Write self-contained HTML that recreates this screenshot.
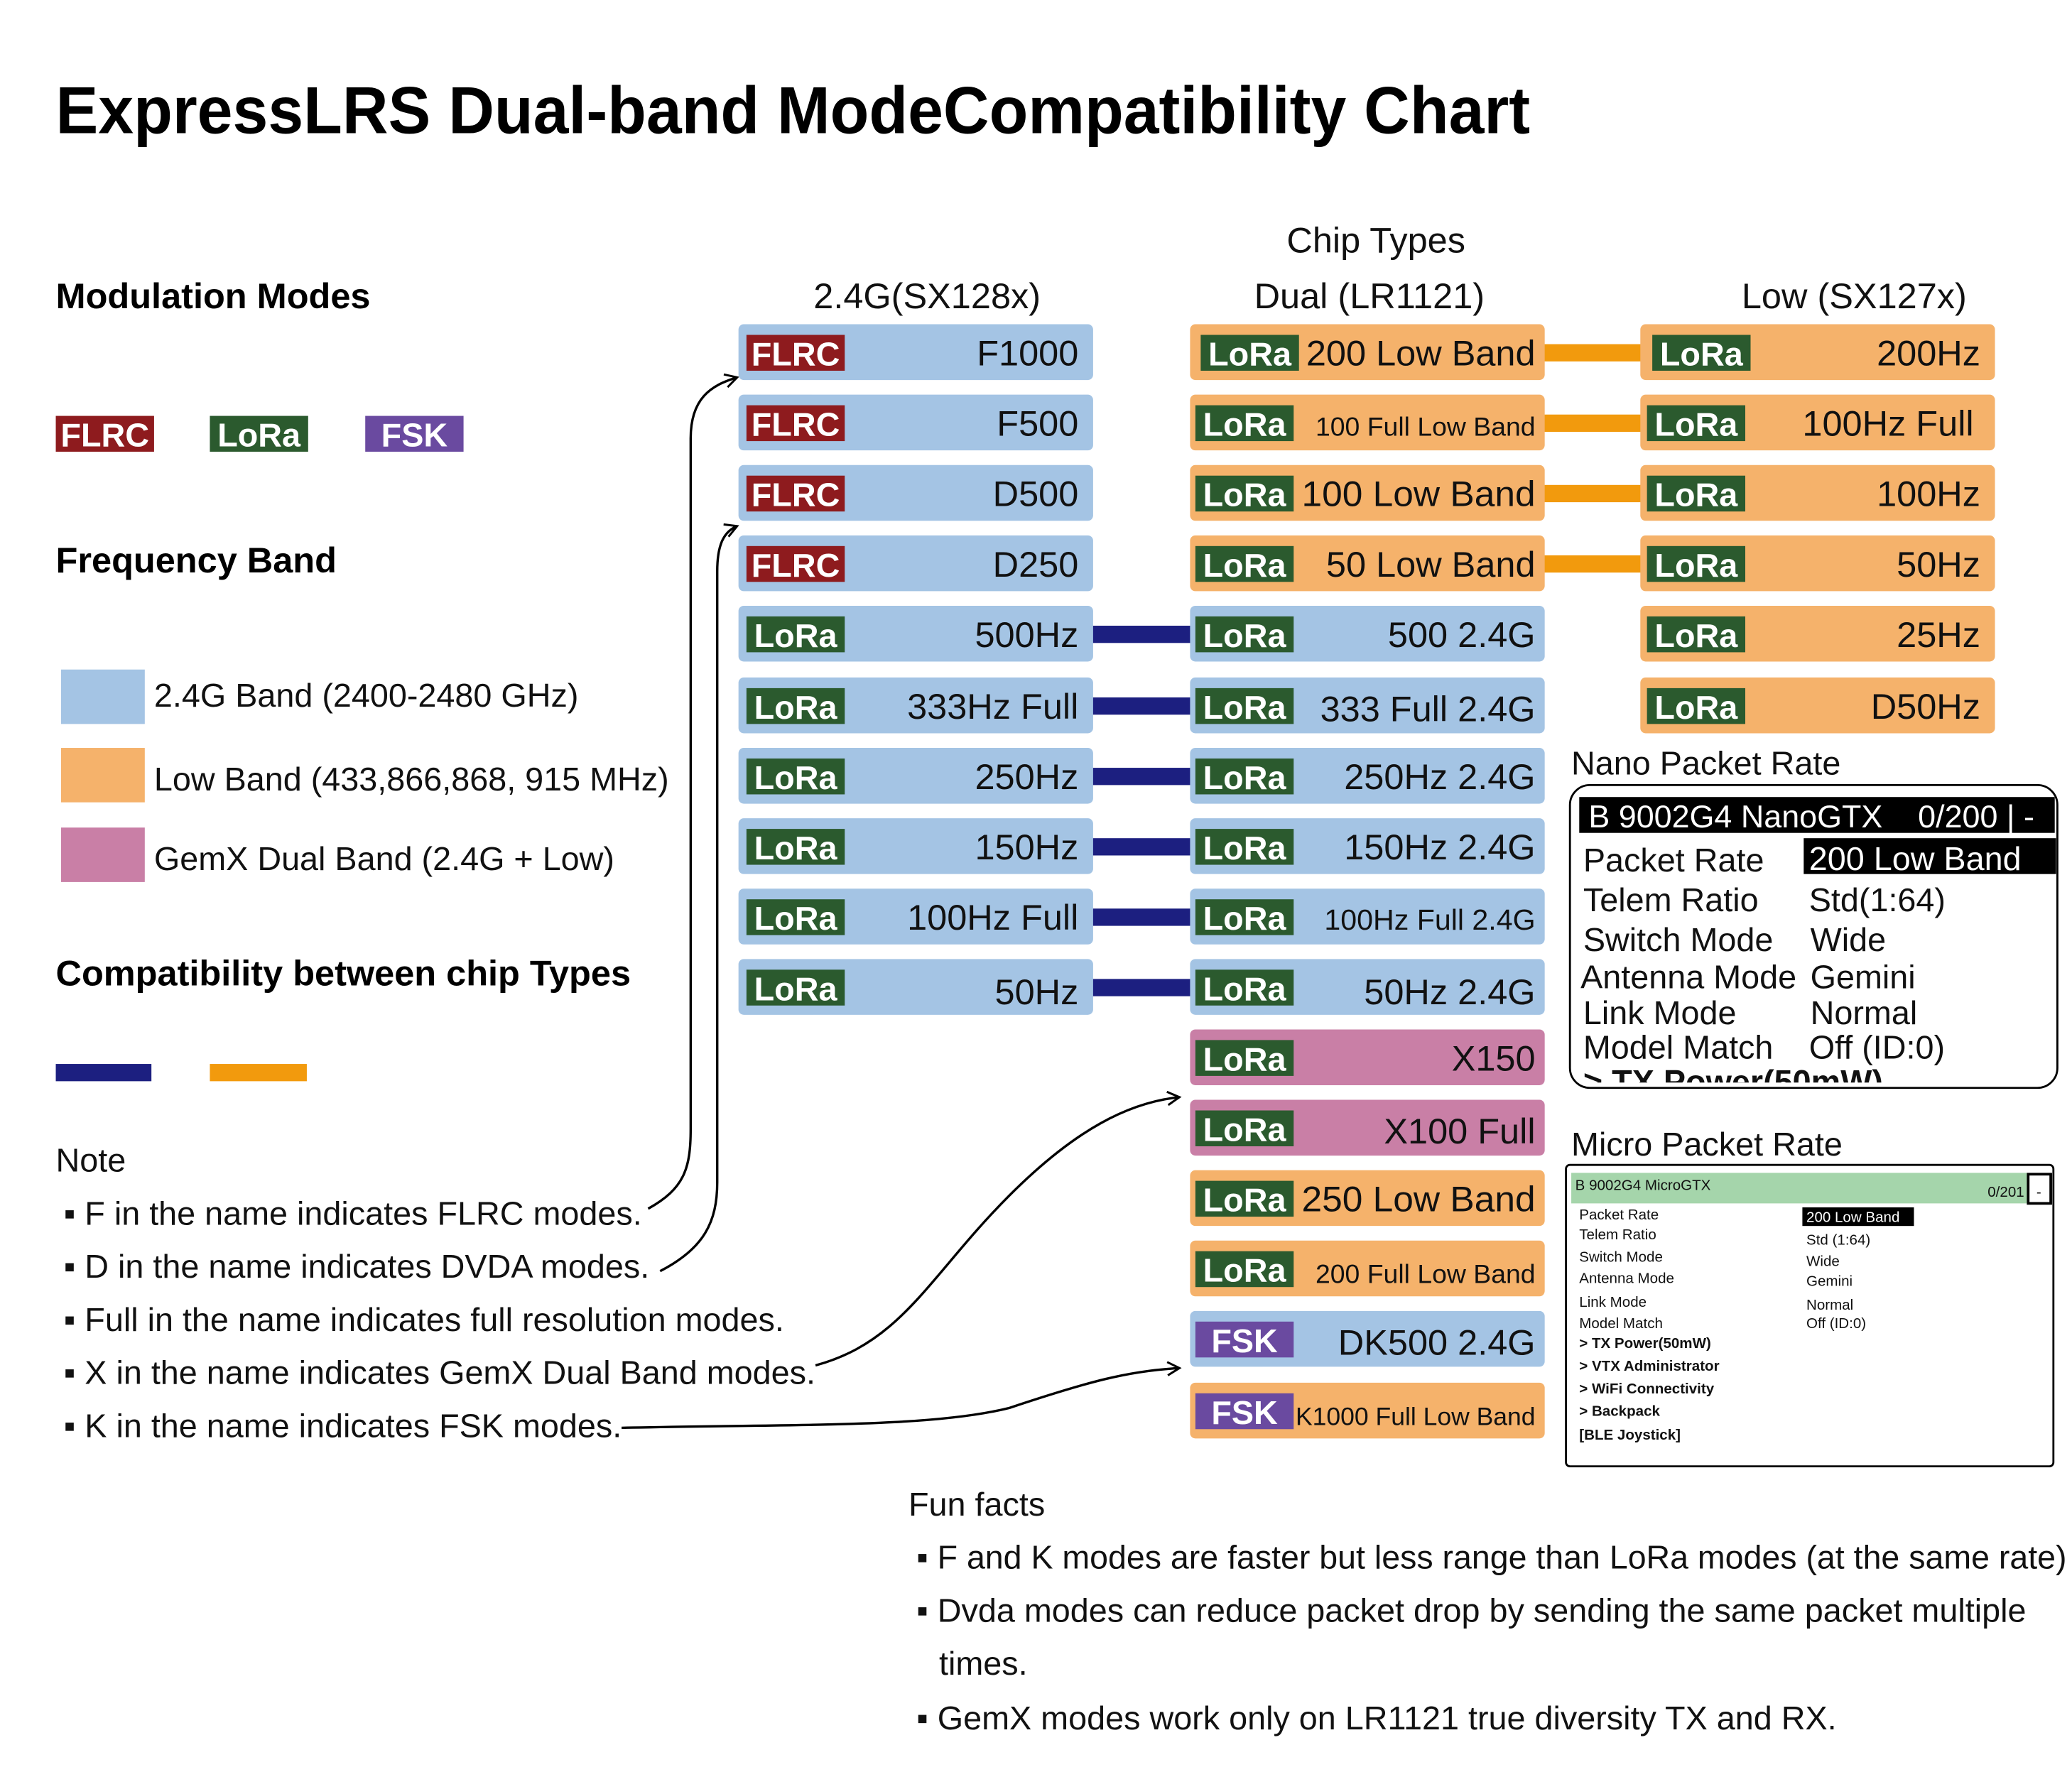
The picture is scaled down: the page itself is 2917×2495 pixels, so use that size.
<!DOCTYPE html>
<html><head><meta charset="utf-8"><style>
html,body{margin:0;padding:0;background:#fff}
svg{display:block}
text{font-family:"Liberation Sans",sans-serif}
.b{font-weight:bold}
.bt{fill:#fff;font-weight:bold;font-size:25px}
.lb{font-size:27px;text-anchor:end;fill:#111}
.sm20{font-size:20px}
.sm22{font-size:22px}
.sm19{font-size:19px}
.t{font-size:25px;fill:#111}
.m{font-size:11px;fill:#111}
</style></head><body>
<svg width="2917" height="2495" viewBox="0 0 1560 1334" xmlns="http://www.w3.org/2000/svg">
<rect width="1560" height="1334" fill="#fff"/>
<defs>
<g id="lora"><rect x="0" y="0" width="74" height="27" fill="#2b5a2e"/><text x="37" y="23" text-anchor="middle" class="bt">LoRa</text></g>
<g id="flrc"><rect x="0" y="0" width="74" height="27" fill="#8e1b1e"/><text x="37" y="23" text-anchor="middle" class="bt">FLRC</text></g>
<g id="fsk"><rect x="0" y="0" width="74" height="27" fill="#6a4aa0"/><text x="37" y="23" text-anchor="middle" class="bt">FSK</text></g>
<marker id="ar" markerWidth="12" markerHeight="12" refX="10" refY="6" orient="auto" markerUnits="userSpaceOnUse"><path d="M1,1 L10,6 L1,11" fill="none" stroke="#000" stroke-width="1.6"/></marker>
</defs>

<text x="42" y="100" class="b" font-size="50" textLength="1110" lengthAdjust="spacingAndGlyphs">ExpressLRS Dual-band ModeCompatibility Chart</text>

<text x="42" y="232" class="b" font-size="27">Modulation Modes</text>
<use href="#flrc" x="42" y="313"/><use href="#lora" x="158" y="313"/><use href="#fsk" x="275" y="313"/>
<text x="42" y="431" class="b" font-size="27">Frequency Band</text>
<rect x="46" y="504" width="63" height="41" fill="#a4c4e4"/>
<rect x="46" y="563" width="63" height="41" fill="#f5b26b"/>
<rect x="46" y="623" width="63" height="41" fill="#c97fa6"/>
<text x="116" y="532" class="t">2.4G Band (2400-2480 GHz)</text>
<text x="116" y="595" class="t">Low Band (433,866,868, 915 MHz)</text>
<text x="116" y="655" class="t">GemX Dual Band (2.4G + Low)</text>
<text x="42" y="742" class="b" font-size="27">Compatibility between chip Types</text>
<rect x="42" y="801" width="72" height="13" fill="#1c1f80"/>
<rect x="158" y="801" width="73" height="13" fill="#f29a0d"/>

<text x="42" y="882" class="t">Note</text>
<g class="t">
<text x="48" y="922">▪ F in the name indicates FLRC modes.</text>
<text x="48" y="962">▪ D in the name indicates DVDA modes.</text>
<text x="48" y="1002">▪ Full in the name indicates full resolution modes.</text>
<text x="48" y="1042">▪ X in the name indicates GemX Dual Band modes.</text>
<text x="48" y="1082">▪ K in the name indicates FSK modes.</text>
</g>
<g fill="none" stroke="#000" stroke-width="1.8">
<path d="M488,910 C515,895 520,880 520,850 L520,330 C520,300 535,290 555,284" marker-end="url(#ar)"/>
<path d="M497,957 C530,940 540,920 540,890 L540,430 C540,410 545,400 555,396" marker-end="url(#ar)"/>
<path d="M614,1028 C680,1010 700,960 760,900 C810,850 850,830 888,826" marker-end="url(#ar)"/>
<path d="M468,1075 C600,1072 700,1075 760,1060 C820,1040 850,1032 888,1030" marker-end="url(#ar)"/>
</g>

<text x="1036" y="190" text-anchor="middle" font-size="27" fill="#111">Chip Types</text>
<text x="698" y="232" text-anchor="middle" font-size="27" fill="#111">2.4G(SX128x)</text>
<text x="1031" y="232" text-anchor="middle" font-size="27" fill="#111">Dual (LR1121)</text>
<text x="1396" y="232" text-anchor="middle" font-size="27" fill="#111">Low (SX127x)</text>

<g fill="#f29a0d">
<rect x="1160" y="259" width="80" height="13"/><rect x="1160" y="312" width="80" height="13"/>
<rect x="1160" y="365" width="80" height="13"/><rect x="1160" y="418" width="80" height="13"/>
</g>
<g fill="#1c1f80">
<rect x="820" y="471" width="80" height="13"/><rect x="820" y="525" width="80" height="13"/>
<rect x="820" y="578" width="80" height="13"/><rect x="820" y="631" width="80" height="13"/>
<rect x="820" y="684" width="80" height="13"/><rect x="820" y="737" width="80" height="13"/>
</g>

<g>
<rect x="556" y="244" width="267" height="42" rx="4" fill="#a4c4e4"/><use href="#flrc" x="562" y="252"/><text x="812" y="275" class="lb">F1000</text>
<rect x="556" y="297" width="267" height="42" rx="4" fill="#a4c4e4"/><use href="#flrc" x="562" y="305"/><text x="812" y="328" class="lb">F500</text>
<rect x="556" y="350" width="267" height="42" rx="4" fill="#a4c4e4"/><use href="#flrc" x="562" y="358"/><text x="812" y="381" class="lb">D500</text>
<rect x="556" y="403" width="267" height="42" rx="4" fill="#a4c4e4"/><use href="#flrc" x="562" y="411"/><text x="812" y="434" class="lb">D250</text>
<rect x="556" y="456" width="267" height="42" rx="4" fill="#a4c4e4"/><use href="#lora" x="562" y="464"/><text x="812" y="487" class="lb">500Hz</text>
<rect x="556" y="510" width="267" height="42" rx="4" fill="#a4c4e4"/><use href="#lora" x="562" y="518"/><text x="812" y="541" class="lb">333Hz Full</text>
<rect x="556" y="563" width="267" height="42" rx="4" fill="#a4c4e4"/><use href="#lora" x="562" y="571"/><text x="812" y="594" class="lb">250Hz</text>
<rect x="556" y="616" width="267" height="42" rx="4" fill="#a4c4e4"/><use href="#lora" x="562" y="624"/><text x="812" y="647" class="lb">150Hz</text>
<rect x="556" y="669" width="267" height="42" rx="4" fill="#a4c4e4"/><use href="#lora" x="562" y="677"/><text x="812" y="700" class="lb">100Hz Full</text>
<rect x="556" y="722" width="267" height="42" rx="4" fill="#a4c4e4"/><use href="#lora" x="562" y="730"/><text x="812" y="756" class="lb">50Hz</text>
</g>

<g>
<rect x="896" y="244" width="267" height="42" rx="4" fill="#f5b26b"/><use href="#lora" x="904" y="252"/><text x="1156" y="275" class="lb">200 Low Band</text>
<rect x="896" y="297" width="267" height="42" rx="4" fill="#f5b26b"/><use href="#lora" x="900" y="305"/><text x="1156" y="328" class="lb sm20">100 Full Low Band</text>
<rect x="896" y="350" width="267" height="42" rx="4" fill="#f5b26b"/><use href="#lora" x="900" y="358"/><text x="1156" y="381" class="lb" textLength="176" lengthAdjust="spacingAndGlyphs">100 Low Band</text>
<rect x="896" y="403" width="267" height="42" rx="4" fill="#f5b26b"/><use href="#lora" x="900" y="411"/><text x="1156" y="434" class="lb">50 Low Band</text>
<rect x="896" y="456" width="267" height="42" rx="4" fill="#a4c4e4"/><use href="#lora" x="900" y="464"/><text x="1156" y="487" class="lb">500 2.4G</text>
<rect x="896" y="510" width="267" height="42" rx="4" fill="#a4c4e4"/><use href="#lora" x="900" y="518"/><text x="1156" y="543" class="lb">333 Full 2.4G</text>
<rect x="896" y="563" width="267" height="42" rx="4" fill="#a4c4e4"/><use href="#lora" x="900" y="571"/><text x="1156" y="594" class="lb">250Hz 2.4G</text>
<rect x="896" y="616" width="267" height="42" rx="4" fill="#a4c4e4"/><use href="#lora" x="900" y="624"/><text x="1156" y="647" class="lb">150Hz 2.4G</text>
<rect x="896" y="669" width="267" height="42" rx="4" fill="#a4c4e4"/><use href="#lora" x="900" y="677"/><text x="1156" y="700" class="lb sm22">100Hz Full 2.4G</text>
<rect x="896" y="722" width="267" height="42" rx="4" fill="#a4c4e4"/><use href="#lora" x="900" y="730"/><text x="1156" y="756" class="lb">50Hz 2.4G</text>
<rect x="896" y="775" width="267" height="42" rx="4" fill="#c97fa6"/><use href="#lora" x="900" y="783"/><text x="1156" y="806" class="lb">X150</text>
<rect x="896" y="828" width="267" height="42" rx="4" fill="#c97fa6"/><use href="#lora" x="900" y="836"/><text x="1156" y="861" class="lb">X100 Full</text>
<rect x="896" y="881" width="267" height="42" rx="4" fill="#f5b26b"/><use href="#lora" x="900" y="889"/><text x="1156" y="912" class="lb" textLength="176" lengthAdjust="spacingAndGlyphs">250 Low Band</text>
<rect x="896" y="934" width="267" height="42" rx="4" fill="#f5b26b"/><use href="#lora" x="900" y="942"/><text x="1156" y="966" class="lb sm20">200 Full Low Band</text>
<rect x="896" y="987" width="267" height="42" rx="4" fill="#a4c4e4"/><use href="#fsk" x="900" y="995"/><text x="1156" y="1020" class="lb">DK500 2.4G</text>
<rect x="896" y="1041" width="267" height="42" rx="4" fill="#f5b26b"/><use href="#fsk" x="900" y="1049"/><text x="1156" y="1073" class="lb sm19">K1000 Full Low Band</text>
</g>

<g>
<rect x="1235" y="244" width="267" height="42" rx="4" fill="#f5b26b"/><use href="#lora" x="1244" y="252"/><text x="1491" y="275" class="lb">200Hz</text>
<rect x="1235" y="297" width="267" height="42" rx="4" fill="#f5b26b"/><use href="#lora" x="1240" y="305"/><text x="1486" y="328" class="lb">100Hz Full</text>
<rect x="1235" y="350" width="267" height="42" rx="4" fill="#f5b26b"/><use href="#lora" x="1240" y="358"/><text x="1491" y="381" class="lb">100Hz</text>
<rect x="1235" y="403" width="267" height="42" rx="4" fill="#f5b26b"/><use href="#lora" x="1240" y="411"/><text x="1491" y="434" class="lb">50Hz</text>
<rect x="1235" y="456" width="267" height="42" rx="4" fill="#f5b26b"/><use href="#lora" x="1240" y="464"/><text x="1491" y="487" class="lb">25Hz</text>
<rect x="1235" y="510" width="267" height="42" rx="4" fill="#f5b26b"/><use href="#lora" x="1240" y="518"/><text x="1491" y="541" class="lb">D50Hz</text>
</g>

<text x="1183" y="583" font-size="25" fill="#111">Nano Packet Rate</text>
<rect x="1182" y="591" width="367" height="228" rx="15" fill="#fff" stroke="#000" stroke-width="1.5"/>
<clipPath id="nc"><rect x="1182" y="591" width="367" height="224" rx="15"/></clipPath>
<g clip-path="url(#nc)" font-size="25" fill="#111">
<rect x="1189" y="600" width="358" height="27" fill="#000"/>
<text x="1196" y="623" fill="#fff" font-size="24" xml:space="preserve">B 9002G4 NanoGTX    0/200 | -</text>
<rect x="1358" y="631" width="190" height="27" fill="#000"/>
<text x="1192" y="656">Packet Rate</text><text x="1362" y="655" fill="#fff">200 Low Band</text>
<text x="1192" y="686">Telem Ratio</text><text x="1362" y="686">Std(1:64)</text>
<text x="1192" y="716">Switch Mode</text><text x="1363" y="716">Wide</text>
<text x="1190" y="744">Antenna Mode</text><text x="1363" y="744">Gemini</text>
<text x="1192" y="771">Link Mode</text><text x="1363" y="771">Normal</text>
<text x="1192" y="797">Model Match</text><text x="1362" y="797">Off (ID:0)</text>
<text x="1192" y="823" font-weight="bold">&gt; TX Power(50mW)</text>
</g>

<text x="1183" y="870" font-size="25" fill="#111">Micro Packet Rate</text>
<rect x="1179" y="877" width="367" height="227" rx="3" fill="#fff" stroke="#000" stroke-width="1.5"/>
<rect x="1183" y="883" width="343" height="23" fill="#a5d5ab"/>
<rect x="1527" y="884" width="17" height="22" fill="#fff" stroke="#000" stroke-width="2"/>
<text x="1535" y="901" text-anchor="middle" class="m">-</text>
<text x="1186" y="896" class="m">B 9002G4 MicroGTX</text>
<text x="1524" y="901" class="m" text-anchor="end">0/201</text>
<rect x="1357" y="909" width="84" height="14" fill="#000"/>
<g class="m">
<text x="1189" y="918">Packet Rate</text><text x="1360" y="920" fill="#fff">200 Low Band</text>
<text x="1189" y="933">Telem Ratio</text><text x="1360" y="937">Std (1:64)</text>
<text x="1189" y="950">Switch Mode</text><text x="1360" y="953">Wide</text>
<text x="1189" y="966">Antenna Mode</text><text x="1360" y="968">Gemini</text>
<text x="1189" y="984">Link Mode</text><text x="1360" y="986">Normal</text>
<text x="1189" y="1000">Model Match</text><text x="1360" y="1000">Off (ID:0)</text>
<g font-weight="bold">
<text x="1189" y="1015">&gt; TX Power(50mW)</text>
<text x="1189" y="1032">&gt; VTX Administrator</text>
<text x="1189" y="1049">&gt; WiFi Connectivity</text>
<text x="1189" y="1066">&gt; Backpack</text>
<text x="1189" y="1084">[BLE Joystick]</text>
</g>
</g>

<g class="t">
<text x="684" y="1141">Fun facts</text>
<text x="690" y="1181" textLength="866" lengthAdjust="spacingAndGlyphs">▪ F and K modes are faster but less range than LoRa modes (at the same rate)</text>
<text x="690" y="1221">▪ Dvda modes can reduce packet drop by sending the same packet multiple</text>
<text x="707" y="1261">times.</text>
<text x="690" y="1302">▪ GemX modes work only on LR1121 true diversity TX and RX.</text>
</g>
</svg>
</body></html>
